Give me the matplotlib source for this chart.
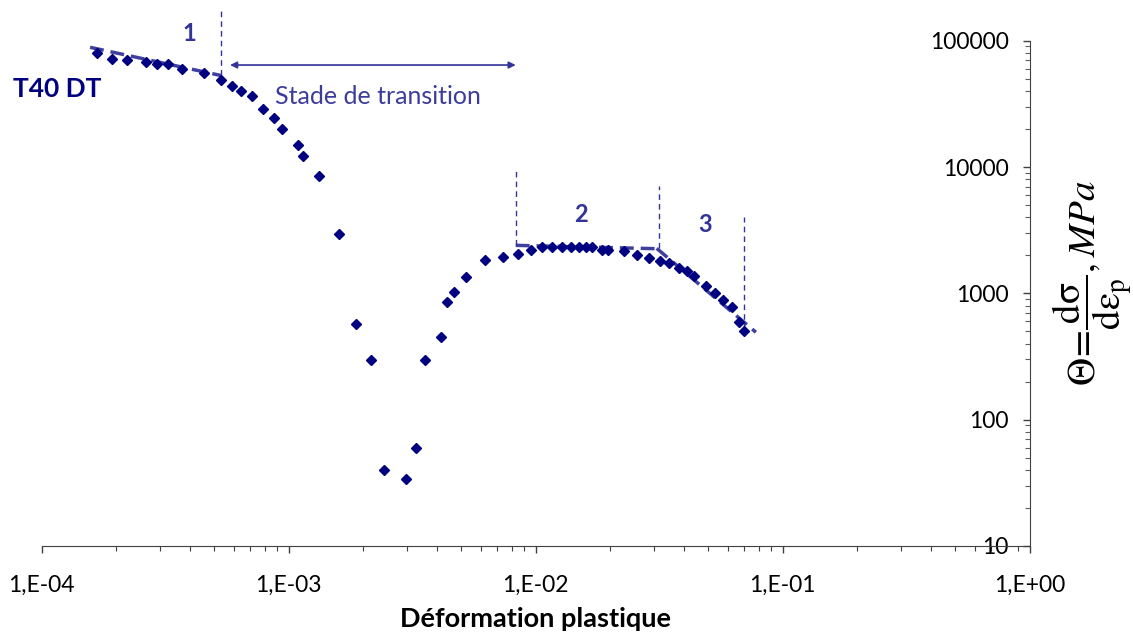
import numpy as np
import matplotlib
matplotlib.use('Agg')
import matplotlib.pyplot as plt
from matplotlib.ticker import LogLocator, FixedFormatter, NullFormatter

# --- DATA ---
eps_p = [1.67e-4, 1.92e-4, 2.21e-4, 2.64e-4, 2.92e-4, 3.26e-4, 3.69e-4, 4.55e-4,
         5.32e-4, 5.91e-4, 6.44e-4, 7.13e-4, 7.87e-4, 8.76e-4, 9.37e-4, 1.087e-3,
         1.146e-3, 1.327e-3, 1.603e-3, 1.867e-3, 2.154e-3, 2.44e-3, 2.985e-3, 3.276e-3,
         3.563e-3, 4.124e-3, 4.36e-3, 4.67e-3, 5.21e-3, 6.26e-3, 7.37e-3, 8.46e-3,
         9.53e-3, 1.06e-2, 1.164e-2, 1.274e-2, 1.386e-2, 1.497e-2, 1.598e-2, 1.69e-2,
         1.85e-2, 1.968e-2, 2.284e-2, 2.578e-2, 2.884e-2, 3.185e-2, 3.475e-2, 3.815e-2,
         4.11e-2, 4.385e-2, 4.88e-2, 5.32e-2, 5.75e-2, 6.25e-2, 6.67e-2, 6.99e-2]
theta = [79400, 71700, 69900, 68200, 65000, 65350, 59330, 55760,
         48790, 43500, 39700, 36230, 28630, 24600, 19940, 14890,
         12250, 8450, 2969, 574, 297, 39.6, 33.9, 59.2,
         297, 455, 858, 1026, 1337, 1824, 1937, 2034,
         2188, 2325, 2325, 2325, 2325, 2325, 2325, 2333,
         2217, 2217, 2161, 2024, 1916, 1791, 1736, 1596,
         1492, 1362, 1134, 1004, 890, 777, 588, 501]

# fitted stages (dashed)
fit1_x = [1.57e-4, 5.32e-4]
fit1_y = [88670, 53000]
fit2_x = [8.3e-3, 3.04e-2]
fit2_y = [2399, 2258]
fit3_x = [3.09e-2, 7.79e-2]
fit3_y = [2270, 492]

# stage limits (thin dashed verticals): x, y_bottom, y_top
limits_x = [5.32e-4, 8.3e-3, 3.15e-2, 6.98e-2]
limits_ybot = [53500, 2399, 2270, 520]
limits_ytop = [175000, 9430, 7040, 4020]

xtick_vals = [1e-4, 1e-3, 1e-2, 1e-1, 1e0]
xtick_labels = ['1,E-04', '1,E-03', '1,E-02', '1,E-01', '1,E+00']
ytick_vals = [10, 100, 1000, 10000, 100000]
ytick_labels = ['10', '100', '1000', '10000', '100000']

# --- STYLE ---
plt.rcParams['font.family'] = ['Lato', 'DejaVu Sans']
plt.rcParams['mathtext.fontset'] = 'stix'
navy = '#000080'
blue = '#333399'

fig = plt.figure(figsize=(11.33, 6.34), dpi=100)
ax = fig.add_axes([41.7 / 1133, 1 - 546 / 634, 988 / 1133, 505.3 / 634])
ax.set_xscale('log')
ax.set_yscale('log')
ax.set_xlim(1e-4, 1e0)
ax.set_ylim(10, 1e5)

# --- PLOT ---
ax.plot(fit1_x, fit1_y, color='#3F3F9F', lw=2.5, ls=(0, (4, 2)), zorder=2)
ax.plot(fit2_x, fit2_y, color='#3F3F9F', lw=2.5, ls=(0, (4, 2)), zorder=2)
ax.plot(fit3_x, fit3_y, color='#3F3F9F', lw=2.5, ls=(0, (4, 2)), zorder=2)
ax.plot(eps_p, theta, ls='none', marker='D', ms=5, color=navy, mec=navy, zorder=3)

for xv, yb, yt in zip(limits_x, limits_ybot, limits_ytop):
    ax.plot([xv, xv], [yb, yt], color=blue, lw=1, ls=(0, (4, 3)), clip_on=False, zorder=2)

ax.annotate('', xy=(5.79e-4, 64180), xytext=(8.3e-3, 64180),
            arrowprops=dict(arrowstyle='<|-|>', color=blue, lw=1.2,
                            mutation_scale=10, shrinkA=0, shrinkB=0))

ax.text(3.95e-4, 115000, '1', color=blue, fontsize=17, fontweight='bold', ha='center', va='center')
ax.text(8.8e-4, 36440, 'Stade de transition', color='#3C3C9C', fontsize=18, ha='left', va='center')
ax.text(1.53e-2, 4224, '2', color=blue, fontsize=17, fontweight='bold', ha='center', va='center')
ax.text(4.85e-2, 3518, '3', color=blue, fontsize=17, fontweight='bold', ha='center', va='center')
fig.text(13 / 1133, 1 - 89 / 634, 'T40 DT', color=navy, fontsize=19, fontweight='bold', ha='left', va='center')

# --- AXES ---
for s in ['top', 'right']:
    ax.spines[s].set_visible(False)
ax.spines['left'].set_position(('axes', 1.0))
ax.spines['left'].set_color('#404040')
ax.spines['bottom'].set_color('#404040')

ax.set_xticks(xtick_vals)
ax.xaxis.set_major_formatter(FixedFormatter(xtick_labels))
ax.xaxis.set_minor_locator(LogLocator(base=10, subs=np.arange(2, 10)))
ax.xaxis.set_minor_formatter(NullFormatter())
ax.set_yticks(ytick_vals)
ax.yaxis.set_major_formatter(FixedFormatter(ytick_labels))
ax.yaxis.set_minor_locator(LogLocator(base=10, subs=np.arange(2, 10)))
ax.yaxis.set_minor_formatter(NullFormatter())

ax.tick_params(axis='x', which='major', direction='out', length=5, width=1, pad=16, labelsize=16.5, color='#404040')
ax.tick_params(axis='x', which='minor', direction='out', length=3.6, width=0.8, color='#404040')
ax.tick_params(axis='y', which='major', direction='out', length=5, width=1, pad=10, labelsize=16.5, color='#404040')
ax.tick_params(axis='y', which='minor', direction='out', length=3.6, width=0.8, color='#606060')

ax.set_xlabel('Déformation plastique', fontsize=19.5, fontweight='bold', labelpad=8)
fig.text(1092 / 1133, 1 - 283 / 634,
         r'$\Theta\!=\!\dfrac{\mathrm{d\sigma}}{\mathrm{d\varepsilon_{p}}}, MPa$',
         rotation=90, fontsize=28, ha='center', va='center')

plt.savefig('out.png', dpi=100)
